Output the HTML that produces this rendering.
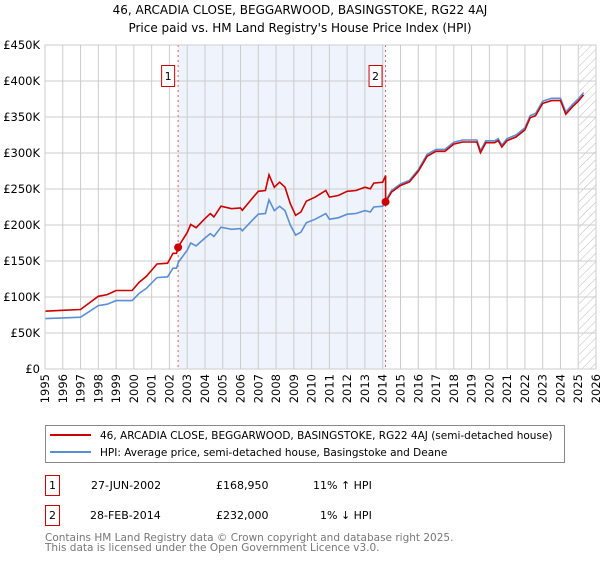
<!DOCTYPE html>
<html><head><meta charset="utf-8"><style>
body{margin:0;background:#fff;font-family:"Liberation Sans","DejaVu Sans",sans-serif;}
svg text{font-family:"DejaVu Sans","Liberation Sans",sans-serif;}
</style></head><body>
<svg width="600" height="560" viewBox="0 0 600 560" xmlns="http://www.w3.org/2000/svg">
<defs><pattern id="hatch" width="6" height="6" patternUnits="userSpaceOnUse" patternTransform="rotate(45)"><line x1="0" y1="0" x2="0" y2="6" stroke="#bbb" stroke-width="1"/></pattern></defs>
<text x="300" y="14" text-anchor="middle" font-size="12">46, ARCADIA CLOSE, BEGGARWOOD, BASINGSTOKE, RG22 4AJ</text>
<text x="300" y="32" text-anchor="middle" font-size="12">Price paid vs. HM Land Registry's House Price Index (HPI)</text>
<g id="plot"></g>
<g id="legend">
<rect x="45.5" y="425.5" width="519" height="37" fill="#fff" stroke="#888"/>
<line x1="50" y1="435" x2="91" y2="435" stroke="#cc0000" stroke-width="2"/>
<text x="100" y="439" font-size="10.5">46, ARCADIA CLOSE, BEGGARWOOD, BASINGSTOKE, RG22 4AJ (semi-detached house)</text>
<line x1="50" y1="452" x2="91" y2="452" stroke="#5b8fd4" stroke-width="2"/>
<text x="100" y="456" font-size="10.5">HPI: Average price, semi-detached house, Basingstoke and Deane</text>
</g>
<g font-size="11">
<rect x="45.5" y="475.5" width="14" height="20" fill="#fff" stroke="#cc0000"/>
<text x="52.5" y="489" text-anchor="middle">1</text>
<text x="91" y="489">27-JUN-2002</text><text x="216" y="489">£168,950</text><text x="313" y="489">11% ↑ HPI</text>
<rect x="45.5" y="505.5" width="14" height="20" fill="#fff" stroke="#cc0000"/>
<text x="52.5" y="519" text-anchor="middle">2</text>
<text x="90" y="519">28-FEB-2014</text><text x="216" y="519">£232,000</text><text x="320" y="519">1% ↓ HPI</text>
</g>
<text x="45" y="541" font-size="10.5" fill="#777">Contains HM Land Registry data © Crown copyright and database right 2025.</text>
<text x="45" y="551" font-size="10.5" fill="#777">This data is licensed under the Open Government Licence v3.0.</text>
</svg>
<script>
const hpiYears=[1995,1996,1997,1997.5,1998,1998.5,1999,1999.9,2000.3,2000.7,2001.3,2001.9,2002.2,2002.4,2002.5,2003,2003.2,2003.5,2004,2004.3,2004.5,2004.9,2005.5,2006,2006.1,2006.6,2007,2007.4,2007.6,2007.9,2008.2,2008.5,2008.8,2009.1,2009.4,2009.7,2010.2,2010.5,2010.8,2011,2011.5,2012,2012.5,2013,2013.3,2013.5,2014,2014.16,2014.5,2015,2015.5,2016,2016.5,2017,2017.5,2018,2018.5,2019,2019.3,2019.5,2019.8,2020.3,2020.5,2020.7,2021,2021.5,2022,2022.3,2022.6,2023,2023.5,2024,2024.3,2024.7,2025,2025.3];
const hpiValues=[70,71,72,80,88,90,95,95,105,112,127,128,140,140,148,165,175,171,182,188,184,197,194,195,192,205,215,216,235,220,226,220,200,186,190,203,208,212,216,208,210,215,216,220,218,225,226,234,248,257,262,277,298,305,305,315,318,318,318,303,317,317,320,311,320,325,335,352,355,372,376,376,357,368,375,384];
const saleYears=[2002.49,2014.16];
const salePrices=[168.95,232];
const saleLabels=["1","2"];
const yTicks=[0,50,100,150,200,250,300,350,400,450];
const yTickLabels=["£0","£50K","£100K","£150K","£200K","£250K","£300K","£350K","£400K","£450K"];
const xTicks=[1995,1996,1997,1998,1999,2000,2001,2002,2003,2004,2005,2006,2007,2008,2009,2010,2011,2012,2013,2014,2015,2016,2017,2018,2019,2020,2021,2022,2023,2024,2025,2026];
const X0=45,X1=596,Y0=369,Y1=45;
const xs=t=>X0+(t-1995)/(2026-1995)*(X1-X0);
const ys=v=>Y0-v/450*(Y0-Y1);
const NS="http://www.w3.org/2000/svg";
const g=document.getElementById('plot');
function mk(tag,attrs){const e=document.createElementNS(NS,tag);for(const k in attrs)e.setAttribute(k,attrs[k]);g.appendChild(e);return e;}
function hpiAt(t){for(let i=1;i<hpiYears.length;i++){if(t<=hpiYears[i]){const a=hpiYears[i-1],b=hpiYears[i];return hpiValues[i-1]+(hpiValues[i]-hpiValues[i-1])*(t-a)/(b-a);}}return hpiValues[hpiValues.length-1];}
let bg=mk('rect',{x:X0,y:Y1,width:X1-X0,height:Y0-Y1,fill:'#fff'});


let band=mk('rect',{x:xs(saleYears[0]),y:Y1,width:xs(saleYears[1])-xs(saleYears[0]),height:Y0-Y1,fill:'#eef3fc'});


let hat=mk('rect',{x:xs(2025.05),y:Y1,width:X1-xs(2025.05),height:Y0-Y1,fill:'url(#hatch)'});


yTicks.forEach((v,i)=>{
 let l=mk('line',{x1:X0,x2:X1,y1:ys(v),y2:ys(v),stroke:'#ccc'});
 
 
 let t=mk('text',{x:X0-5,y:ys(v)+4,'text-anchor':'end','font-size':'11.5'});t.textContent=yTickLabels[i];
 
 
});
xTicks.forEach(yr=>{
 let l=mk('line',{x1:xs(yr),x2:xs(yr),y1:Y1,y2:Y0,stroke:'#ccc'});
 
 
 let t=mk('text',{x:0,y:0,'text-anchor':'end','font-size':'11.5',transform:'translate('+(xs(yr)+4).toFixed(1)+','+(Y0+5)+') rotate(-90)'});t.textContent=yr;
 
 
});
saleYears.forEach((yr,i)=>{
 let l=mk('line',{x1:xs(yr),x2:xs(yr),y1:Y1,y2:Y0,stroke:'#e06060','stroke-dasharray':'2,3'});
 
 
 let r=mk('rect',{x:xs(yr)-16.5,y:65.5,width:13,height:21,fill:'#fff',stroke:'#cc0000'});
 
 
 let t=mk('text',{x:xs(yr)-10,y:80,'text-anchor':'middle','font-size':'11'});t.textContent=saleLabels[i];
 
 
});
let hp=hpiYears.map((t,i)=>xs(t).toFixed(1)+','+ys(hpiValues[i]).toFixed(1)).join(' ');
let hl=mk('polyline',{points:hp,fill:'none',stroke:'#5b8fd4','stroke-width':1.6});


let rp=hpiYears.map((t,i)=>{let k=t<saleYears[1]?0:1;let v=hpiValues[i]*salePrices[k]/hpiAt(saleYears[k]);return xs(t).toFixed(1)+','+ys(v).toFixed(1);});
let i2=hpiYears.findIndex(t=>t>=saleYears[1]);
rp.splice(i2,0,xs(saleYears[1]).toFixed(1)+','+ys(hpiAt(saleYears[1])*salePrices[0]/hpiAt(saleYears[0])).toFixed(1));
let rl=mk('polyline',{points:rp.join(' '),fill:'none',stroke:'#cc0000','stroke-width':1.6});


saleYears.forEach((yr,i)=>{
 let c=mk('circle',{cx:xs(yr),cy:ys(salePrices[i]),r:4,fill:'#cc0000'});
 
 
});
let bd=mk('rect',{x:X0,y:Y1,width:X1-X0,height:Y0-Y1,fill:'none',stroke:'#ccc'});


</script>
</body></html>
